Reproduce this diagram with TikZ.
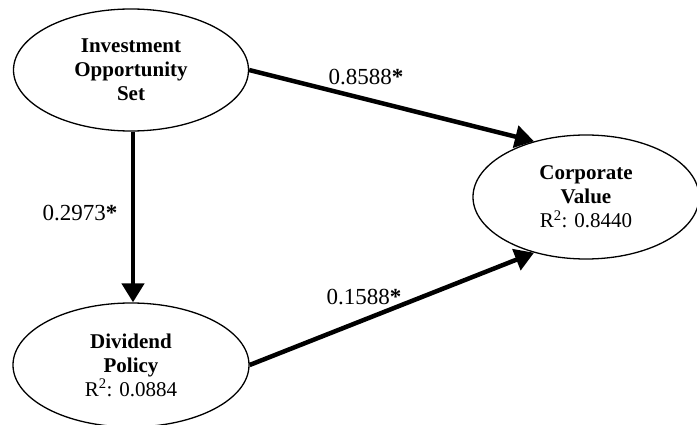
\documentclass[tikz,border=0pt]{standalone}
\usepackage{fontspec}
\setmainfont{Liberation Serif}
\usetikzlibrary{shapes.geometric,arrows.meta}
\begin{document}
\begin{tikzpicture}[x=1pt,y=-1pt,
  latent/.style={ellipse,draw,line width=1.3pt,inner sep=0pt,align=center,
    font=\fontsize{21}{24}\selectfont},
  path/.style={line width=4.5pt,-{Triangle[length=19pt,width=22pt]}},
  coef/.style={font=\fontsize{23}{26}\selectfont,inner sep=0pt}]
\useasboundingbox (0,0) rectangle (697,425);
\node[latent,minimum width=235pt,minimum height=122pt] (ios) at (131,70)
  {\textbf{Investment}\\\textbf{Opportunity}\\\textbf{Set}};
\node[latent,minimum width=236pt,minimum height=124pt] (dp) at (131,365)
  {\textbf{Dividend}\\\textbf{Policy}\\R\textsuperscript{2}: 0.0884};
\node[latent,minimum width=226pt,minimum height=124pt] (cv) at (586,197)
  {\textbf{Corporate}\\\textbf{Value}\\R\textsuperscript{2}: 0.8440};
\draw[path] (ios.east) -- (cv.133);
\draw[path] (dp.east) -- (cv.227);
\draw[path] (ios.south -| 133,0) -- (dp.north -| 133,0);
\node[coef] (c1) at (366,77) {0.8588\textbf{*}};
\node[coef] (c2) at (80,213) {0.2973\textbf{*}};
\node[coef] (c3) at (364,297) {0.1588\textbf{*}};
\end{tikzpicture}
\end{document}
